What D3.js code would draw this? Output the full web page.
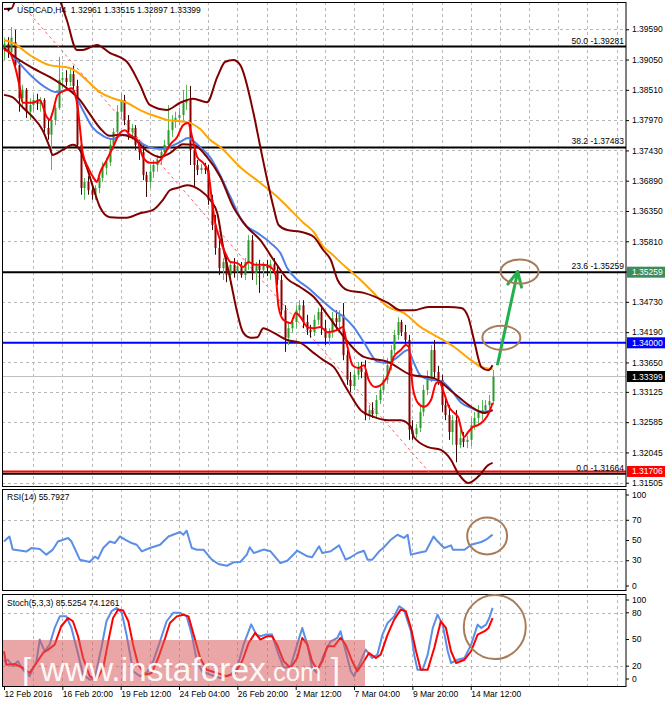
<!DOCTYPE html>
<html>
<head>
<meta charset="utf-8">
<script src="https://cdn.jsdelivr.net/npm/d3@7"></script>
<style>
  body { margin: 0; background: #fff; }
  svg text { font-family: "Liberation Sans", Arial, sans-serif; }
</style>
</head>
<body>
<svg id="chart" width="665" height="704"></svg>
<script>
// ---- candles (USDCAD H4) ----
const opens = [1.3922,1.3933,1.3918,1.3936,1.3895,1.3836,1.3851,1.3812,1.3824,1.3833,1.3826,1.3833,1.3783,1.3771,1.3797,1.3819,1.3869,1.3872,1.3865,1.3879,
  1.3858,1.3753,1.3676,1.3687,1.3672,1.3664,1.3676,1.3694,1.3712,1.3722,1.3753,1.3776,1.3812,1.3833,1.3797,1.3776,1.3783,1.3753,1.3740,1.3699,
  1.3687,1.3705,1.3717,1.3726,1.3740,1.3753,1.3779,1.3794,1.3801,1.3806,1.3828,1.3833,1.3744,1.3717,1.3708,1.3712,1.3708,1.3655,1.3610,1.3569,
  1.3533,1.3544,1.3521,1.3539,1.3526,1.3537,1.3521,1.3544,1.3583,1.3526,1.3537,1.3530,1.3539,1.3533,1.3540,1.3530,1.3512,1.3458,1.3409,1.3426,
  1.3437,1.3458,1.3467,1.3437,1.3423,1.3419,1.3441,1.3455,1.3426,1.3409,1.3419,1.3444,1.3437,1.3450,1.3378,1.3334,1.3323,1.3343,1.3355,1.3348,
  1.3271,1.3280,1.3273,1.3298,1.3316,1.3334,1.3360,1.3387,1.3414,1.3437,1.3419,1.3405,1.3245,1.3237,1.3248,1.3277,1.3316,1.3337,1.3387,1.3348,
  1.3334,1.3289,1.3271,1.3241,1.3262,1.3218,1.3230,1.3223,1.3227,1.3253,1.3266,1.3277,1.3280,1.3289,1.32961];
const highs = [1.3944,1.3945,1.3963,1.3958,1.3904,1.3860,1.3854,1.3836,1.3842,1.3844,1.3838,1.3836,1.3801,1.3806,1.3824,1.3910,1.3883,1.3886,1.3890,1.3894,
  1.3869,1.3762,1.3694,1.3697,1.3685,1.3681,1.3699,1.3722,1.3730,1.3765,1.3783,1.3824,1.3845,1.3842,1.3806,1.3790,1.3788,1.3762,1.3753,1.3705,
  1.3717,1.3726,1.3735,1.3747,1.3762,1.3824,1.3806,1.3812,1.3819,1.3851,1.3860,1.3858,1.3753,1.3726,1.3719,1.3721,1.3717,1.3664,1.3628,1.3583,
  1.3551,1.3557,1.3544,1.3551,1.3548,1.3544,1.3551,1.3592,1.3592,1.3544,1.3548,1.3544,1.3548,1.3548,1.3551,1.3539,1.3521,1.3467,1.3437,1.3444,
  1.3467,1.3476,1.3476,1.3450,1.3432,1.3450,1.3462,1.3467,1.3441,1.3426,1.3455,1.3458,1.3458,1.3471,1.3387,1.3348,1.3351,1.3366,1.3366,1.3369,
  1.3289,1.3294,1.3307,1.3325,1.3343,1.3373,1.3396,1.3423,1.3446,1.3441,1.3432,1.3414,1.3262,1.3255,1.3289,1.3325,1.3351,1.3396,1.3405,1.3359,
  1.3343,1.3302,1.3289,1.3271,1.3280,1.3245,1.3241,1.3234,1.3266,1.3277,1.3289,1.3298,1.3298,1.3307,1.33515];
const lows = [1.3904,1.3908,1.3911,1.3886,1.3812,1.3819,1.3801,1.3797,1.3812,1.3815,1.3812,1.3776,1.3762,1.3708,1.3788,1.3815,1.3854,1.3858,1.3858,1.3851,
  1.3747,1.3664,1.3655,1.3664,1.3655,1.3655,1.3667,1.3687,1.3699,1.3715,1.3744,1.3769,1.3801,1.3788,1.3762,1.3762,1.3744,1.3726,1.3690,1.3660,
  1.3676,1.3694,1.3705,1.3717,1.3733,1.3744,1.3767,1.3783,1.3788,1.3797,1.3815,1.3717,1.3678,1.3699,1.3701,1.3701,1.3646,1.3601,1.3557,1.3521,
  1.3512,1.3508,1.3503,1.3516,1.3512,1.3516,1.3512,1.3530,1.3512,1.3503,1.3489,1.3516,1.3519,1.3512,1.3523,1.3503,1.3450,1.3384,1.3396,1.3418,
  1.3426,1.3450,1.3426,1.3414,1.3409,1.3412,1.3432,1.3414,1.3396,1.3396,1.3409,1.3423,1.3426,1.3369,1.3325,1.3312,1.3316,1.3334,1.3337,1.3262,
  1.3262,1.3266,1.3266,1.3291,1.3309,1.3327,1.3351,1.3380,1.3405,1.3412,1.3396,1.3227,1.3227,1.3230,1.3241,1.3269,1.3307,1.3330,1.3337,1.3325,
  1.3277,1.3262,1.3227,1.3218,1.3187,1.3212,1.3214,1.3212,1.3216,1.3245,1.3255,1.3262,1.3273,1.3280,1.32897];
const closes = [1.3933,1.3918,1.3944,1.3895,1.3836,1.3851,1.3812,1.3824,1.3833,1.3826,1.3833,1.3783,1.3771,1.3797,1.3819,1.3869,1.3872,1.3865,1.3879,1.3858,
  1.3753,1.3676,1.3687,1.3672,1.3664,1.3676,1.3694,1.3712,1.3722,1.3753,1.3776,1.3812,1.3833,1.3797,1.3776,1.3783,1.3753,1.3740,1.3699,1.3687,
  1.3705,1.3717,1.3726,1.3740,1.3753,1.3779,1.3794,1.3801,1.3806,1.3828,1.3833,1.3744,1.3717,1.3708,1.3712,1.3708,1.3655,1.3610,1.3569,1.3533,
  1.3544,1.3521,1.3539,1.3526,1.3537,1.3521,1.3544,1.3583,1.3526,1.3537,1.3530,1.3539,1.3533,1.3540,1.3530,1.3512,1.3458,1.3409,1.3426,1.3437,
  1.3458,1.3467,1.3437,1.3423,1.3419,1.3441,1.3455,1.3426,1.3409,1.3419,1.3444,1.3437,1.3450,1.3378,1.3334,1.3323,1.3343,1.3355,1.3348,1.3271,
  1.3280,1.3273,1.3298,1.3316,1.3334,1.3360,1.3387,1.3414,1.3437,1.3419,1.3405,1.3245,1.3237,1.3248,1.3277,1.3316,1.3337,1.3387,1.3348,1.3334,
  1.3289,1.3271,1.3241,1.3262,1.3218,1.3230,1.3223,1.3227,1.3253,1.3266,1.3277,1.3280,1.3289,1.3296,1.33399];

// ---- indicator lines as [bar, price] ----
const fastMA = [[0,1.3922],[1.5,1.3918],[2.9,1.3895],[4.3,1.3856],[5.1,1.3828],[7.8,1.3828],[9.8,1.3833],[11.7,1.3803],[12.5,1.3797],[13.3,1.3810],
  [14.7,1.3842],[17.2,1.3851],[18.6,1.3854],[19.4,1.3845],[20.2,1.3820],[20.8,1.3785],[21.6,1.3738],[23,1.3713],[24.4,1.3696],[25.5,1.3687],
  [26.3,1.3703],[28.2,1.3726],[29.9,1.3749],[31.8,1.3774],[33.2,1.3779],[34.5,1.3771],[36.5,1.3762],[38.1,1.3731],[40,1.3721],[41.9,1.3721],
  [43.6,1.3732],[45.5,1.3753],[47.5,1.3767],[49.1,1.3788],[50.5,1.3792],[51.6,1.3767],[53,1.3731],[54.6,1.3721],[56,1.3705],[57.1,1.3649],
  [57.9,1.3614],[59.3,1.3583],[60.7,1.3560],[62.1,1.3544],[64,1.3542],[65.6,1.3535],[67,1.3544],[68.9,1.3539],[71.1,1.3539],[73.1,1.3535],
  [74.4,1.3524],[75.3,1.3464],[76.6,1.3441],[78.6,1.3435],[80,1.3453],[81.3,1.3446],[83.2,1.3428],[84.9,1.3426],[86.8,1.3428],[88.7,1.3419],
  [91.5,1.3423],[92.9,1.3428],[94.2,1.3393],[95.6,1.3360],[97.2,1.3355],[98.7,1.3360],[100,1.3334],[101.9,1.3321],[103.9,1.3328],[105.5,1.3346],
  [106.9,1.3375],[108.8,1.3387],[110.2,1.3396],[111,1.3393],[112.1,1.3321],[113.5,1.3293],[115.2,1.3286],[117.1,1.3298],[118.5,1.3328],[119.3,1.3330],
  [120.7,1.3310],[122,1.3286],[123.1,1.3277],[124.5,1.3268],[126.2,1.3232],[127.3,1.3241],[128.6,1.3250],[130,1.3253],[131.7,1.3262],[133,1.3275],[134,1.3293]];
const midMA = [[2.3,1.3913],[7.8,1.3874],[11.7,1.3854],[14.4,1.3847],[17.5,1.3851],[18.9,1.3847],[21.6,1.3815],[24.4,1.3783],[27.1,1.3769],[29.9,1.3763],
  [32.6,1.3771],[35.4,1.3767],[38.1,1.3754],[40.9,1.3747],[43.6,1.3746],[46.1,1.3751],[48.3,1.3758],[50.5,1.3765],[51.9,1.3760],[53.8,1.3749],
  [56.5,1.3731],[58.8,1.3705],[62.1,1.3660],[65.6,1.3614],[69.5,1.3596],[73.1,1.3578],[75.8,1.3560],[77.7,1.3533],[80.5,1.3512],[83.2,1.3499],
  [86.8,1.3478],[90.4,1.3458],[93.2,1.3446],[95.9,1.3428],[98.7,1.3401],[102.5,1.3366],[105.3,1.3364],[108,1.3375],[110.8,1.3387],[112.1,1.3369],
  [114.3,1.3341],[117.1,1.3334],[119.8,1.3332],[122.6,1.3316],[125.4,1.3293],[128.1,1.3284],[130.9,1.3277],[134,1.3280]];
const slowMA = [[0,1.3940],[2.3,1.3935],[7.8,1.3910],[12.5,1.3895],[18,1.3890],[20.8,1.3879],[23.5,1.3863],[26.3,1.3847],[29.9,1.3836],[33.7,1.3828],
  [37.3,1.3815],[42,1.3803],[45,1.3797],[48.3,1.3795],[51,1.3792],[53.8,1.3781],[56.5,1.3762],[59.3,1.3749],[64.8,1.3713],[70.3,1.3685],
  [75,1.3660],[78.6,1.3637],[82.1,1.3614],[84.9,1.3598],[87.6,1.3571],[89.6,1.3560],[93.7,1.3535],[97.8,1.3512],[100.6,1.3494],[105.3,1.3464],
  [109.7,1.3453],[114.3,1.3428],[119,1.3410],[123.4,1.3393],[128.1,1.3369],[130.9,1.3357],[134,1.3353]];
const bbUpper = [[0,1.3995],[2,1.3996],[4,1.4030],[8,1.4060],[12,1.4050],[15.3,1.4011],[17.2,1.3976],[20,1.3922],[21.6,1.3922],[25.5,1.3931],
  [29,1.3917],[33.7,1.3901],[37.3,1.3860],[40,1.3824],[44.7,1.3815],[48.3,1.3828],[51.9,1.3835],[55.7,1.3829],[58.5,1.3874],[60.7,1.3901],
  [62.9,1.3904],[64.8,1.3895],[68.4,1.3810],[70.3,1.3749],[72.2,1.3690],[73.9,1.3642],[75.3,1.3610],[77.7,1.3601],[81.3,1.3598],[84.9,1.3589],
  [87.6,1.3565],[89.6,1.3548],[91.5,1.3512],[94.2,1.3494],[98.7,1.3489],[105.3,1.3471],[108.8,1.3458],[112.4,1.3458],[116.3,1.3464],[121.8,1.3464],
  [125.4,1.3462],[127.3,1.3446],[128.9,1.3405],[130.9,1.3357],[132.8,1.3351],[134,1.3360]];
const bbMiddle = [[0,1.3926],[2.3,1.3913],[7.8,1.3890],[12.5,1.3874],[17.2,1.3854],[20.8,1.3833],[23.5,1.3808],[26.3,1.3783],[29,1.3769],[31.8,1.3771],
  [35.4,1.3765],[39.2,1.3742],[42.8,1.3731],[45.5,1.3738],[49.1,1.3754],[51.9,1.3753],[55.7,1.3731],[59.3,1.3696],[62.9,1.3642],[66.7,1.3606],
  [70.3,1.3583],[73.9,1.3548],[77.7,1.3514],[81.3,1.3499],[84.9,1.3482],[88.7,1.3450],[92.3,1.3418],[98.7,1.3375],[105.3,1.3366],[111.6,1.3343],
  [117.9,1.3337],[123.4,1.3310],[128.1,1.3286],[131.7,1.3275],[134,1.3280]];
const bbLower = [[0,1.3842],[2.3,1.3838],[5.1,1.3820],[7.8,1.3803],[10.6,1.3779],[12.5,1.3749],[13.3,1.3735],[16.1,1.3744],[18.9,1.3753],[20.8,1.3744],
  [22.7,1.3713],[24.4,1.3678],[26.3,1.3642],[29,1.3624],[33.7,1.3623],[37.3,1.3631],[40.9,1.3637],[43.6,1.3655],[45.5,1.3672],[47.5,1.3676],
  [50.2,1.3681],[53.8,1.3672],[56.5,1.3655],[58.5,1.3631],[60.1,1.3571],[62.1,1.3512],[64,1.3453],[65.6,1.3418],[67.6,1.3409],[69.5,1.3410],
  [71.1,1.3426],[73.9,1.3418],[77.7,1.3405],[81.3,1.3400],[84.9,1.3382],[87.6,1.3369],[90.4,1.3357],[94.2,1.3316],[97.8,1.3280],[101.4,1.3268],
  [105.3,1.3262],[108.8,1.3262],[111.6,1.3250],[112.4,1.3232],[116.3,1.3214],[119.8,1.3209],[122.6,1.3191],[124.5,1.3168],[127.3,1.3150],[130,1.3161],
  [132.8,1.3182],[134,1.3186]];
const fibTrend = [[3.8,1.4011],[117,1.31664]];

// ---- levels ----
const fibLevels = ['50.0', '38.2', '23.6', '0.0'];
const fibPrices = [1.39281, 1.37483, 1.35259, 1.31664];
const supportLevel = 1.34000;
const redLevel = 1.31706;
const lastPrice = 1.33399;
const header = 'USDCAD,H4  1.32961 1.33515 1.32897 1.33399';

// ---- RSI(14) and Stoch(5,3,3) as [bar, value] ----
const rsi = [[0,49],[1,52.5],[1.5,54],[2.4,41],[4.3,40],[6.1,39],[7.5,42.5],[9.8,41.6],[11.6,36],[13.4,41],[14.8,49],[17.6,52.5],[18.5,49],
  [20.8,31],[23.5,28.7],[24.9,34],[25.8,32],[27.2,42.6],[29,49],[30.4,47.5],[31.8,54],[33.2,50.8],[35,47.5],[36.4,45.8],[37.8,39.3],[40,42.6],
  [42.8,45.8],[45.1,54],[48.3,58.4],[49.2,55.7],[50.1,59.7],[51.5,42.6],[52.9,40.9],[54.7,40.9],[57,31],[58.8,26.7],[61.1,25],[63,28.4],[64.8,28.7],
  [66.6,36],[67.4,43.3],[68.5,37.6],[70.3,39.9],[71.2,41],[73.1,39.3],[75.8,27.7],[77.7,30],[80.4,39.9],[83.2,34.3],[84.5,33.4],[86.4,44.3],
  [87.3,37.6],[89.6,39.3],[91.9,45.2],[93.7,31],[95.1,33.4],[96.9,37.6],[98.7,39.9],[99.7,31],[101,31],[102.9,39.3],[104.2,43.3],[106.1,50.8],
  [107.9,55.7],[109.7,52.5],[110.7,55.7],[111.6,36],[113.4,37.6],[115.7,39.3],[117.8,54],[118.9,49.2],[120.7,42.6],[122.6,45.2],[123.1,40.9],
  [126.3,40.9],[128.1,45.8],[130.9,48.5],[132.2,50.8],[134,55.79]];
const stochK = [[0,25.5],[1,27.3],[2.4,20],[3.8,25.5],[5.2,16],[7,8.7],[8.9,25.5],[9.8,50],[11.1,36.8],[12.5,44.2],[13.9,63],[15.3,76],[17.1,76],
  [18.5,63],[19.9,40.5],[21.7,10.5],[23.5,4.8],[24.9,6.7],[26.7,40.5],[28.1,70.5],[29.5,81.8],[30.9,85.5],[32.3,80],[33.6,55.5],[35.4,14.3],
  [37.3,8.7],[39.1,12.4],[40.9,25.5],[42.8,48],[44.6,70.5],[46.4,80],[48.3,80],[50.1,76],[51.5,55.5],[52.9,25.5],[54.3,14.3],[56.5,10.5],[59.3,6.7],
  [62.1,10.5],[63.9,18],[65.7,44.2],[67.8,67],[69.2,55.5],[70.3,53.7],[71.7,55.5],[73.5,55.5],[75.3,33],[76.7,18],[78.6,19.9],[80.4,44.2],[81.8,63],
  [83.2,44.2],[84.5,18],[85.9,12.4],[87.7,33],[89.6,48],[91.4,51.7],[92.3,59.3],[93.7,36.8],[95.1,14.3],[96,8.7],[97.4,21.7],[99.2,38.6],[101,29.2],
  [102.4,33],[103.8,55.5],[105.2,68.6],[107,76],[108.4,87.4],[109.7,83.6],[111.6,59.3],[112.5,33],[113.4,16],[114.8,16],[116.2,33],[117.6,63],
  [118.9,77.9],[120.3,66.7],[121.7,36.8],[122.6,23.6],[124.4,27.3],[126.3,29.2],[128.1,44.2],[129.9,66.7],[130.9,63],[132.2,66.7],[133.1,74.2],[134,85.53]];
const stochD = [[0,36.8],[0.6,21.7],[2.9,22.5],[5.2,18],[7,12.4],[8.9,23.6],[10.7,34.9],[12.1,38.6],[13.9,44.2],[15.7,64.9],[17.6,74.2],[18.9,70.5],
  [20.3,53.7],[21.7,29.2],[23.5,8.7],[25.4,4.8],[27.2,18],[28.6,48],[29.9,74.2],[31.3,83.6],[32.7,82.5],[34.1,70.5],[35.4,44.2],[36.8,21.7],[38.7,10.5],
  [40.5,12.4],[42.3,29.2],[44.2,51.7],[45.5,68.6],[47.4,76],[49.2,77.9],[50.6,76],[52,55.5],[53.8,29.2],[55.6,16],[58.4,12.4],[61.1,8.7],[63.4,12.4],
  [65.3,25.5],[67.1,46.1],[68.9,57.4],[70.3,49.8],[72.2,53.7],[73.5,53.7],[74.9,44.2],[76.7,25.5],[78.6,18],[80.4,29.2],[81.8,51.7],[83.2,44.2],
  [84.5,25.5],[85.9,16],[87.3,25.5],[88.7,42.4],[90.5,42.4],[92.3,51.7],[93.7,44.2],[95.5,25.5],[96.9,14.3],[98.7,25.5],[100.1,34.9],[102,29.2],
  [103.3,33],[105.2,55.5],[107,72.3],[108.8,83.6],[110.2,81.8],[111.6,63],[113,36.8],[114.3,16],[116.2,16],[118,40.5],[119.8,70.5],[121.2,63],
  [122.6,36.8],[124,23.6],[126.3,27.3],[128.1,36.8],[129.9,55.5],[131.8,59.3],[132.9,63],[134,74.13]];

// ---- axes ----
const priceTicks = [1.39590,1.39050,1.38510,1.37970,1.37430,1.36890,1.36350,1.35810,1.35270,1.34730,1.34190,1.33650,1.33125,1.32585,1.32045,1.31505];
const rsiTicks = [100, 70, 50, 30, 0];
const stochTicks = [100, 80, 50, 20, 0];
const dateBars = [0, 16, 32, 48, 64, 80, 96, 112, 128];
const dateLabels = ['12 Feb 2016','16 Feb 20:00','19 Feb 12:00','24 Feb 04:00','26 Feb 20:00','2 Mar 12:00','7 Mar 04:00','9 Mar 20:00','14 Mar 12:00'];

// ---- drawn notes: [bar, value] ----
const arrowPts = [[135.3,1.3360],[140.9,1.3527]];
const mainRings = [[141.4,1.3527],[136.4,1.3409]];
const rsiRing = [132.5,54.5];
const stochRing = [134.6,64];

const svg = d3.select('#chart');
const right = 626;
const main = {top: 2, bottom: 487}, rsiP = {top: 489, bottom: 591}, stP = {top: 594, bottom: 687};

const x = d3.scaleLinear().domain([0, 134]).range([4, 492.6]);
const y = d3.scaleLinear().domain([1.31429, 1.40076]).range([main.bottom, main.top]);
const yR = d3.scaleLinear().domain([0, 100]).range([591, 490]);
const yS = d3.scaleLinear().domain([0, 100]).range([684, 595]);

const defs = svg.append('defs');
[['cMain', main], ['cRsi', rsiP], ['cSt', stP]].forEach(([id, p]) => {
  defs.append('clipPath').attr('id', id).append('rect')
    .attr('x', 2).attr('y', p.top).attr('width', right - 2).attr('height', p.bottom - p.top);
});

const gridColor = '#b8b8b8';
const vGrid = d3.range(8, 172, 8).filter(b => x(b) < right - 2);

function panelGrid(p, hVals, ys) {
  const g = svg.append('g').attr('stroke', gridColor).attr('stroke-dasharray', '3,3').attr('stroke-width', 1);
  g.selectAll('line.v').data(vGrid).enter().append('line')
    .attr('x1', d => Math.round(x(d)) + 0.5).attr('x2', d => Math.round(x(d)) + 0.5)
    .attr('y1', p.top).attr('y2', p.bottom);
  g.selectAll('line.h').data(hVals).enter().append('line')
    .attr('x1', 2).attr('x2', right)
    .attr('y1', d => Math.round(ys(d)) + 0.5).attr('y2', d => Math.round(ys(d)) + 0.5);
}
panelGrid(main, priceTicks, y);
panelGrid(rsiP, [70, 30], yR);
panelGrid(stP, [80, 20], yS);

// horizontal levels
const mainG = svg.append('g').attr('clip-path', 'url(#cMain)');
mainG.append('line').attr('x1', 2).attr('x2', right).attr('y1', y(lastPrice)).attr('y2', y(lastPrice))
  .attr('stroke', '#c0c0c0').attr('stroke-width', 1);
mainG.selectAll('line.fib').data(fibPrices).enter().append('line')
  .attr('x1', 2).attr('x2', right).attr('y1', d => y(d)).attr('y2', d => y(d))
  .attr('stroke', '#000').attr('stroke-width', 2);
mainG.append('line').attr('x1', 2).attr('x2', right).attr('y1', y(supportLevel)).attr('y2', y(supportLevel))
  .attr('stroke', '#0000ff').attr('stroke-width', 2);
mainG.append('line').attr('x1', 2).attr('x2', right).attr('y1', y(redLevel)).attr('y2', y(redLevel))
  .attr('stroke', '#ff0000').attr('stroke-width', 2);
mainG.append('path').attr('d', d3.line().x(d => x(d[0])).y(d => y(d[1]))(fibTrend))
  .attr('fill', 'none').attr('stroke', '#ff6666').attr('stroke-width', 1).attr('stroke-dasharray', '3,3');

// candles
const bars = closes.map((c, i) => ({i, o: opens[i], h: highs[i], l: lows[i], c}));
const cg = mainG.append('g');
cg.selectAll('line.wick').data(bars).enter().append('line')
  .attr('x1', d => Math.round(x(d.i)) + 0.5).attr('x2', d => Math.round(x(d.i)) + 0.5)
  .attr('y1', d => y(d.h)).attr('y2', d => y(d.l))
  .attr('stroke', d => d.c >= d.o ? '#58b858' : '#3a0a0a').attr('stroke-width', 1);
cg.selectAll('rect').data(bars).enter().append('rect')
  .attr('x', d => Math.round(x(d.i)) - 0.5).attr('width', 2)
  .attr('y', d => y(Math.max(d.o, d.c))).attr('height', d => Math.max(1, Math.abs(y(d.o) - y(d.c))))
  .attr('fill', d => d.c >= d.o ? '#2a9a2a' : '#8b0000');

// indicator lines
function series(g, pts, ys, color, w, curve) {
  g.append('path').attr('d', d3.line().x(d => x(d[0])).y(d => ys(d[1])).curve(curve || d3.curveMonotoneX)(pts))
    .attr('fill', 'none').attr('stroke', color).attr('stroke-width', w).attr('stroke-linejoin', 'round');
}
series(mainG, slowMA, y, '#ffa500', 2);
series(mainG, bbUpper, y, '#800000', 2);
series(mainG, bbLower, y, '#800000', 2);
series(mainG, midMA, y, '#4f7fe8', 2);
series(mainG, bbMiddle, y, '#800000', 2);
series(mainG, fastMA, y, '#ff0000', 2);

// fib labels
svg.selectAll('text.fib').data(fibPrices).enter().append('text')
  .attr('x', right - 2).attr('y', d => y(d) - 3).attr('text-anchor', 'end')
  .attr('font-size', 8.5).attr('fill', '#000')
  .text((d, i) => `${fibLevels[i]} -${d.toFixed(5)}`);

// RSI & Stoch
const rG = svg.append('g').attr('clip-path', 'url(#cRsi)');
series(rG, rsi, yR, '#5b8ee6', 2, d3.curveLinear);
const sG = svg.append('g').attr('clip-path', 'url(#cSt)');
series(sG, stochK, yS, '#5b8ee6', 2, d3.curveLinear);
series(sG, stochD, yS, '#ff0000', 2, d3.curveLinear);

// watermark
sG.append('rect').attr('x', 2).attr('y', 640).attr('width', 363).attr('height', 47)
  .attr('fill', '#d85c5c').attr('opacity', 0.55);
const wm = sG.append('text').attr('x', 22).attr('y', 681).attr('fill', '#fff').attr('opacity', 0.92)
  .attr('font-family', 'Lato, "DejaVu Sans", sans-serif').attr('font-weight', 300)
  .attr('textLength', 318).attr('lengthAdjust', 'spacingAndGlyphs');
wm.append('tspan').attr('font-size', 34).text('[ www.instaforex');
wm.append('tspan').attr('font-size', 26).text('.com');
wm.append('tspan').attr('font-size', 34).text(' ]');

// frames
[main, rsiP, stP].forEach(p => {
  svg.append('rect').attr('x', 2.5).attr('y', p.top + 0.5).attr('width', right - 2.5).attr('height', p.bottom - p.top - 1)
    .attr('fill', 'none').attr('stroke', '#000').attr('stroke-width', 1);
});

// axes
function styleAxis(g) {
  g.select('.domain').remove();
  g.selectAll('text').attr('font-size', 8.5).attr('fill', '#000')
    .attr('font-family', '"Liberation Sans", Arial, sans-serif');
  g.selectAll('line').attr('stroke', '#000');
}
svg.append('g').attr('transform', `translate(${right},0)`)
  .call(d3.axisRight(y).tickValues(priceTicks).tickFormat(d3.format('.5f')).tickSize(3))
  .call(styleAxis);
svg.append('g').attr('transform', `translate(${right},0)`)
  .call(d3.axisRight(yR).tickValues(rsiTicks).tickSize(3))
  .call(styleAxis)
  .call(g => g.selectAll('.tick').attr('transform', d => `translate(0,${Math.min(Math.max(yR(d), rsiP.top + 6), rsiP.bottom - 5)})`));
svg.append('g').attr('transform', `translate(${right},0)`)
  .call(d3.axisRight(yS).tickValues(stochTicks).tickSize(3))
  .call(styleAxis)
  .call(g => g.selectAll('.tick').attr('transform', d => `translate(0,${Math.min(Math.max(yS(d), stP.top + 6), stP.bottom - 8)})`));
svg.append('g').attr('transform', `translate(0,${stP.bottom})`)
  .call(d3.axisBottom(x).tickValues(dateBars).tickFormat((d, i) => dateLabels[i]).tickSize(3))
  .call(styleAxis)
  .call(g => g.selectAll('text').attr('text-anchor', 'start').attr('dy', '0.35em').attr('y', 7));

// price tags on the axis
const tags = [[1.35259, '#3d8c5c'], [supportLevel, '#0000ff'], [lastPrice, '#000000'], [redLevel, '#ff0000']];
const tg = svg.selectAll('g.tag').data(tags).enter().append('g');
tg.append('rect').attr('x', right + 1).attr('y', d => y(d[0]) - 5.5).attr('width', 665 - right - 1).attr('height', 11)
  .attr('fill', d => d[1]);
tg.append('text').attr('x', right + 6).attr('y', d => y(d[0]) + 3).attr('font-size', 8.5).attr('fill', '#fff')
  .text(d => d[0].toFixed(5));

// panel titles
svg.append('text').attr('x', 5).attr('y', 12).attr('font-size', 7).attr('font-family', '"DejaVu Sans", sans-serif').text('\u25BC');
svg.append('text').attr('x', 17).attr('y', 13).attr('font-size', 8.5).attr('xml:space', 'preserve').text(header);
svg.append('text').attr('x', 7).attr('y', 500).attr('font-size', 8.5).text('RSI(14) 55.7927');
svg.append('text').attr('x', 7).attr('y', 606).attr('font-size', 8.5).text('Stoch(5,3,3) 85.5254 74.1261');

// annotations
const ringColor = '#a97b57';
const [a0, a1] = arrowPts.map(d => [x(d[0]), y(d[1])]);
svg.append('line').attr('x1', a0[0]).attr('y1', a0[1]).attr('x2', a1[0]).attr('y2', a1[1])
  .attr('stroke', '#22b04c').attr('stroke-width', 3);
const ang = Math.atan2(a1[1] - a0[1], a1[0] - a0[0]);
[-0.45, 0.45].forEach(o => {
  svg.append('line').attr('x1', a1[0]).attr('y1', a1[1])
    .attr('x2', a1[0] - 16 * Math.cos(ang + o)).attr('y2', a1[1] - 16 * Math.sin(ang + o))
    .attr('stroke', '#22b04c').attr('stroke-width', 3).attr('stroke-linecap', 'round');
});
svg.selectAll('ellipse.m').data(mainRings).enter().append('ellipse')
  .attr('cx', d => x(d[0])).attr('cy', d => y(d[1])).attr('rx', 19).attr('ry', 12)
  .attr('fill', 'none').attr('stroke', ringColor).attr('stroke-width', 2);
svg.append('ellipse').attr('cx', x(rsiRing[0])).attr('cy', yR(rsiRing[1])).attr('rx', 20).attr('ry', 18.5)
  .attr('fill', 'none').attr('stroke', ringColor).attr('stroke-width', 2);
svg.append('ellipse').attr('cx', x(stochRing[0])).attr('cy', yS(stochRing[1])).attr('rx', 31).attr('ry', 32)
  .attr('fill', 'none').attr('stroke', ringColor).attr('stroke-width', 2);
</script>
</body>
</html>
